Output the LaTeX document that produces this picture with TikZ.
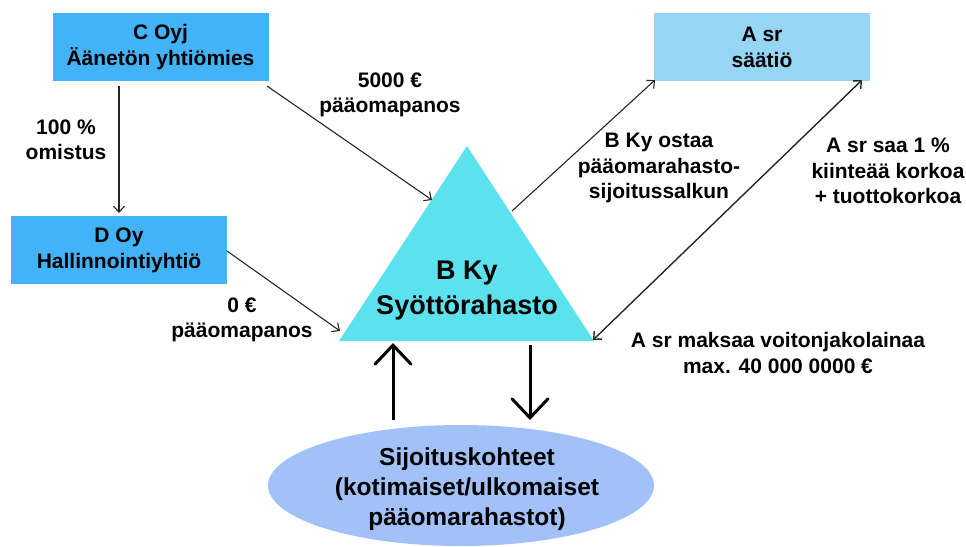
\documentclass[tikz,border=0pt]{standalone}
\usepackage{fontspec}
\setmainfont{Liberation Sans}
\usetikzlibrary{arrows.meta,shapes.geometric}
\definecolor{boxblue}{HTML}{42B3F7}
\definecolor{boxlight}{HTML}{97D5F4}
\definecolor{tricyan}{HTML}{5CE1EF}
\definecolor{ellblue}{HTML}{A1C1F8}
\tikzset{
  orgbox/.style={fill=#1, draw=none, minimum width=216pt, minimum height=68pt, align=center, inner sep=0pt,
    font=\fontsize{21}{26}\selectfont\bfseries},
  lbl/.style={align=center, inner sep=0pt, font=\fontsize{21}{25.5}\selectfont\bfseries},
  thinarrow/.style={draw=black!85, line width=1.1pt, -{Straight Barb[length=6pt,width=11pt]}},
  thickarrow/.style={draw=black, line width=3pt, -{Straight Barb[length=19pt,width=36pt,line cap=round]}},
}
\begin{document}
\begin{tikzpicture}[x=1pt,y=-1pt]
\useasboundingbox (0,0) rectangle (966,546);
% boxes
\node[orgbox=boxblue] (C) at (160.5,47) {C Oyj\\Äänetön yhtiömies};
\node[orgbox=boxblue] (D) at (119,250) {D Oy\\Hallinnointiyhtiö};
\node[orgbox=boxlight] (A) at (762,47) {A sr\\säätiö};
% triangle
\coordinate (Btop) at (467,146);
\coordinate (Bleft) at (339,341);
\coordinate (Bright) at (594,341);
\fill[tricyan] (Btop) -- (Bright) -- (Bleft) -- cycle;
\node[align=center, inner sep=0pt, font=\fontsize{27}{35}\selectfont\bfseries] (B) at (467,291) {B Ky\\Syöttörahasto};
% ellipse
\node[ellipse, fill=ellblue, minimum width=386pt, minimum height=121pt, inner sep=0pt] (E) at (461,485.5) {};
\node[align=center, inner sep=0pt, font=\fontsize{24.5}{30}\selectfont\bfseries] (Et) at (467,489) {Sijoituskohteet\\(kotimaiset/ulkomaiset\\pääomarahastot)};
% connector endpoints
\coordinate (c1) at (119,86);
\coordinate (d1) at (119,213);
\coordinate (c2) at (267,86);
\coordinate (b1) at (432,200);
\coordinate (d2) at (227,251);
\coordinate (b2) at (340,331);
\coordinate (b3) at (512,211);
\coordinate (a1) at (655,80);
\coordinate (a2) at (862,80);
\coordinate (b4) at (593,340);
\coordinate (e1) at (393,420);
\coordinate (b5) at (393,343);
\coordinate (b6) at (530,345);
\coordinate (e2) at (530,420);
% arrows
\draw[thinarrow] (c1) -- (d1);
\draw[thinarrow] (c2) -- (b1);
\draw[thinarrow] (d2) -- (b2);
\draw[thinarrow] (b3) -- (a1);
\draw[thinarrow, line width=1.4pt, {Straight Barb[length=6pt,width=11pt]}-{Straight Barb[length=6pt,width=11pt]}] (b4) -- (a2);
\draw[thickarrow] (e1) -- (b5);
\draw[thickarrow] (b6) -- (e2);
% labels
\node[lbl] (l1) at (66,140) {100 \%\\omistus};
\node[lbl] (l2) at (390,95) {5000 €\\pääomapanos};
\node[lbl] (l3) at (242,320) {0 €\\pääomapanos};
\node[lbl] (l4) at (659,168) {B Ky ostaa\\pääomarahasto-\\sijoitussalkun};
\node[lbl] (l5) at (888,171) {A sr saa 1 \%\\kiinteää korkoa\\+ tuottokorkoa};
\node[lbl] (l6) at (778,353) {A sr maksaa voitonjakolainaa\\max. 40 000 0000 €};
\end{tikzpicture}
\end{document}
